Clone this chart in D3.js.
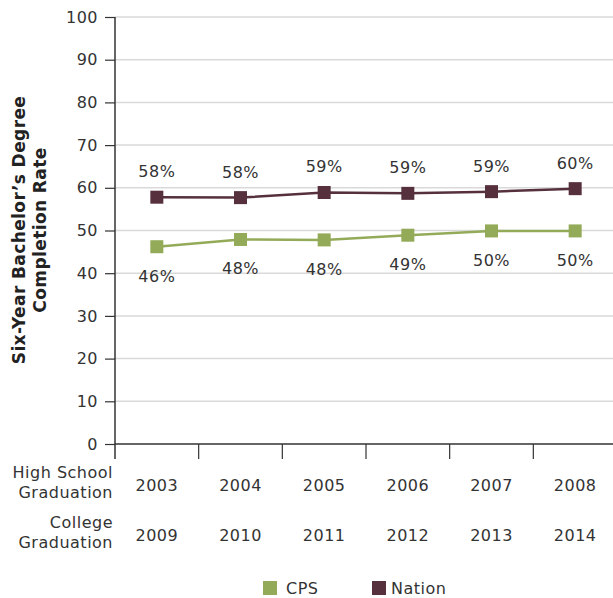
<!DOCTYPE html>
<html>
<head>
<meta charset="utf-8">
<script src="https://cdn.jsdelivr.net/npm/d3@7/dist/d3.min.js"></script>
<style>
  html, body { margin: 0; padding: 0; background: #fff; }
  svg { display: block; font-family: "DejaVu Sans", "Open Sans", sans-serif; }
  svg text { letter-spacing: 0.5px; }
</style>
</head>
<body>
<svg id="chart" width="613" height="598"></svg>
<script>
// Cohorts: high-school graduation year and the matching six-year college graduation year
const hsYears = ["2003", "2004", "2005", "2006", "2007", "2008"];
const collegeYears = ["2009", "2010", "2011", "2012", "2013", "2014"];

// Six-year bachelor's degree completion rate (%)
const cpsValues = [46.2, 47.9, 47.8, 48.9, 49.9, 49.9];
const nationValues = [57.8, 57.7, 58.9, 58.7, 59.1, 59.8];

const yTicks = [0, 10, 20, 30, 40, 50, 60, 70, 80, 90, 100];

const colors = { cps: "#93ab58", nation: "#56313d" };
const textColor = "#333";
const fontFamily = "'DejaVu Sans', sans-serif";

const svg = d3.select("#chart");
const plotLeft = 115, plotRight = 617, plotTop = 17, plotBottom = 444;

const x = d3.scaleBand().domain(hsYears).range([plotLeft, plotRight]);
const y = d3.scaleLinear().domain([0, 100]).range([plotBottom, plotTop]);

// gridlines
svg.append("g")
  .selectAll("line")
  .data(yTicks.filter(d => d > 0))
  .join("line")
  .attr("x1", plotLeft).attr("x2", 613)
  .attr("y1", d => y(d)).attr("y2", d => y(d))
  .attr("stroke", "#d9d9d9").attr("stroke-width", 1.5);

// y axis
const yAxis = svg.append("g")
  .attr("transform", `translate(${plotLeft},0)`)
  .call(d3.axisLeft(y).tickValues(yTicks).tickSize(10).tickPadding(7));
yAxis.select(".domain").attr("stroke", "#333").attr("stroke-width", 1.5)
  .attr("d", `M0,${plotTop}V${plotBottom + 15}`);
yAxis.selectAll(".tick line").attr("stroke", "#333").attr("stroke-width", 1.2);
yAxis.selectAll(".tick text")
  .attr("fill", textColor).style("font-size", "16px")
  .style("font-family", fontFamily);

// x axis baseline and band separators
svg.append("line")
  .attr("x1", plotLeft).attr("x2", 613)
  .attr("y1", plotBottom).attr("y2", plotBottom)
  .attr("stroke", "#333").attr("stroke-width", 1.5);
svg.append("g")
  .selectAll("line")
  .data(hsYears.slice(1))
  .join("line")
  .attr("x1", d => x(d)).attr("x2", d => x(d))
  .attr("y1", plotBottom).attr("y2", plotBottom + 15)
  .attr("stroke", "#333").attr("stroke-width", 1.2);

const cx = d => x(d) + x.bandwidth() / 2;

// category rows
const rowStyle = s => s.attr("fill", textColor).style("font-size", "16px").attr("text-anchor", "middle");
svg.append("g").selectAll("text").data(hsYears).join("text")
  .attr("x", d => cx(d)).attr("y", 491).text(d => d).call(rowStyle);
svg.append("g").selectAll("text").data(collegeYears).join("text")
  .attr("x", (d, i) => cx(hsYears[i])).attr("y", 541).text(d => d).call(rowStyle);

const rowHead = [["High School", 478], ["Graduation", 498], ["College", 528], ["Graduation", 548]];
svg.append("g").selectAll("text").data(rowHead).join("text")
  .attr("x", 113).attr("y", d => d[1]).text(d => d[0])
  .attr("text-anchor", "end").attr("fill", textColor).style("font-size", "16px");

// y axis title
const title = svg.append("text")
  .attr("transform", `translate(0,230) rotate(-90)`)
  .attr("text-anchor", "middle").attr("fill", "#222")
  .style("font-size", "17px").style("font-weight", "bold")
  .style("letter-spacing", "0.4px");
title.append("tspan").attr("x", 0).attr("y", 25).text("Six-Year Bachelor’s Degree");
title.append("tspan").attr("x", 0).attr("y", 46).text("Completion Rate");

// series
const series = [
  { key: "cps", values: cpsValues, labelDy: 35 },
  { key: "nation", values: nationValues, labelDy: -20 }
];
const line = d3.line().x(d => cx(d.year)).y(d => y(d.value));
const fmt = d3.format(".0f");
const m = 13;

series.forEach(s => {
  const pts = hsYears.map((year, i) => ({ year, value: s.values[i] }));
  svg.append("path").datum(pts)
    .attr("d", line).attr("fill", "none")
    .attr("stroke", colors[s.key]).attr("stroke-width", 2.5);
  svg.append("g").selectAll("rect").data(pts).join("rect")
    .attr("x", d => cx(d.year) - m / 2).attr("y", d => y(d.value) - m / 2)
    .attr("width", m).attr("height", m).attr("fill", colors[s.key]);
  svg.append("g").selectAll("text").data(pts).join("text")
    .attr("x", d => cx(d.year)).attr("y", d => y(d.value) + s.labelDy)
    .attr("text-anchor", "middle").attr("fill", textColor).style("font-size", "16px")
    .text(d => fmt(d.value) + "%");
});

// legend
const legend = [["CPS", "cps", 263], ["Nation", "nation", 372]];
const lg = svg.append("g").selectAll("g").data(legend).join("g")
  .attr("transform", d => `translate(${d[2]},581)`);
lg.append("rect").attr("width", 14).attr("height", 14).attr("fill", d => colors[d[1]]);
lg.append("text").attr("x", d => d[1] === "cps" ? 23 : 19).attr("y", 13)
  .attr("fill", textColor).style("font-size", "16px").text(d => d[0]);
</script>
</body>
</html>
